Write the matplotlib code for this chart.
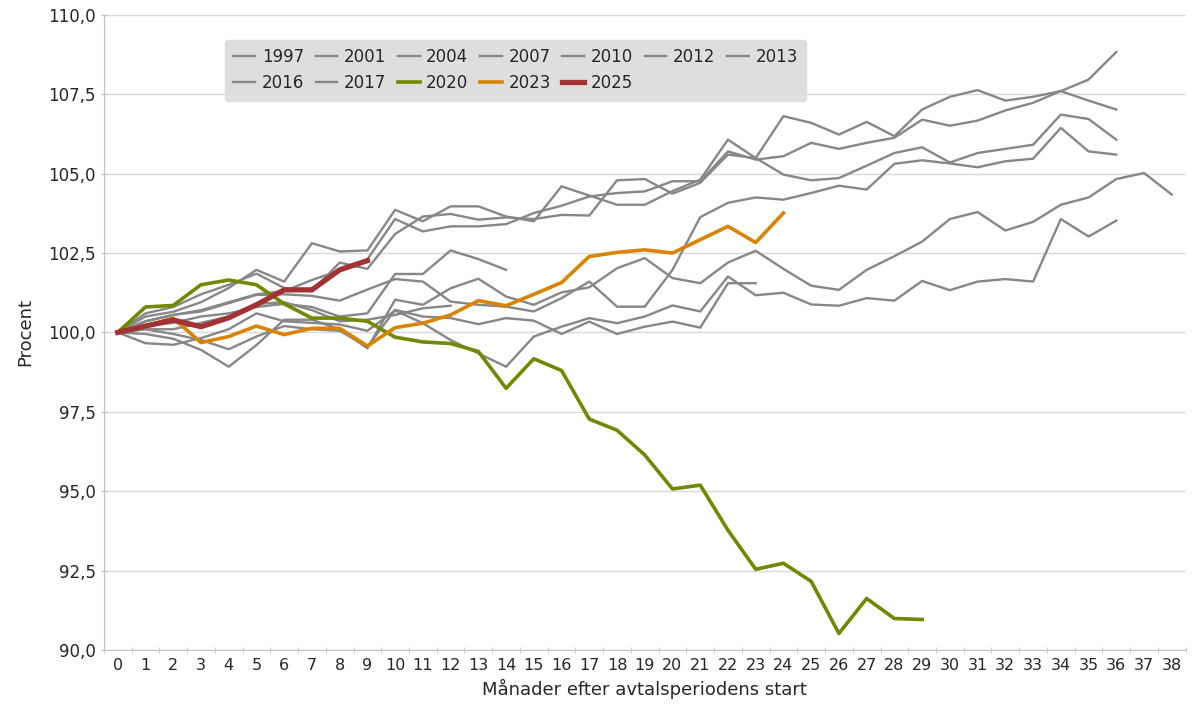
import numpy as np
import matplotlib.pyplot as plt
from matplotlib.ticker import FuncFormatter

# Index (start of agreement period = 100), by month after start
y1997 = [100, 99.95, 99.8, 99.45, 98.92, 99.6, 100.4, 100.4, 100.1, 99.5, 101.03,
         100.87, 101.39, 101.69, 101.13, 100.87, 101.26, 101.42, 102.02, 102.34, 101.71,
         101.55, 102.2, 102.57, 102.0, 101.47, 101.34, 101.97, 102.4, 102.86, 103.57,
         103.79, 103.21, 103.48, 104.02, 104.25, 104.83, 105.02, 104.34]
y2001 = [100, 99.66, 99.61, 99.82, 100.1, 100.6, 100.35, 100.3, 100.25, 100.05, 100.69,
         100.29, 99.76, 99.34, 98.92, 99.87, 100.18, 100.45, 100.29, 100.5, 100.85,
         100.66, 101.76, 101.17, 101.25, 100.88, 100.84, 101.08, 101.0, 101.62, 101.33,
         101.6, 101.68, 101.6, 103.57, 103.02, 103.52]
y2004 = [100, 100.35, 100.55, 100.7, 100.95, 101.2, 101.3, 101.65, 101.95, 102.3, 103.57,
         103.18, 103.34, 103.34, 103.41, 103.76, 103.99, 104.28, 104.39, 104.44, 104.76,
         104.76, 105.7, 105.44, 105.55, 105.97, 105.78, 105.97, 106.13, 106.7, 106.51,
         106.67, 106.99, 107.23, 107.6, 107.96, 108.83]
y2007 = [100, 100.5, 100.65, 100.95, 101.4, 101.97, 101.6, 102.81, 102.55, 102.58, 103.86,
         103.5, 103.97, 103.97, 103.65, 103.5, 104.6, 104.31, 104.02, 104.02, 104.45,
         104.81, 106.07, 105.49, 106.81, 106.6, 106.23, 106.63, 106.18, 107.02, 107.42,
         107.63, 107.3, 107.42, 107.6, 107.3, 107.02]
y2010 = [100, 100.1, 99.95, 99.76, 99.47, 99.87, 100.2, 100.1, 100.05, 99.55, 100.71,
         100.5, 100.45, 100.26, 100.45, 100.37, 99.95, 100.34, 99.95, 100.18, 100.34,
         100.15, 101.55, 101.55]
y2012 = [100, 100.2, 100.3, 100.5, 100.6, 100.8, 100.9, 100.8, 100.5, 100.6, 101.84,
         101.84, 102.58, 102.31, 101.97]
y2013 = [100, 100.6, 100.8, 101.2, 101.5, 101.85, 101.4, 101.3, 102.2, 102.0, 103.1,
         103.65, 103.73, 103.55, 103.62, 103.57, 103.7, 103.68, 104.79, 104.83, 104.37,
         104.71, 105.6, 105.49, 104.97, 104.79, 104.86, 105.25, 105.65, 105.83, 105.35,
         105.65, 105.78, 105.91, 106.86, 106.72, 106.07]
y2016 = [100, 100.1, 100.1, 100.3, 100.5, 100.9, 100.95, 100.7, 100.35, 100.4, 100.55,
         100.76, 100.84]
y2017 = [100, 100.35, 100.55, 100.66, 100.92, 101.18, 101.2, 101.15, 101.0, 101.35, 101.68,
         101.6, 100.97, 100.87, 100.81, 100.66, 101.08, 101.6, 100.81, 100.81, 101.97,
         103.63, 104.08, 104.25, 104.18, 104.39, 104.62, 104.5, 105.31, 105.42, 105.32,
         105.2, 105.39, 105.47, 106.44, 105.7, 105.6]
y2020 = [100, 100.8, 100.85, 101.5, 101.65, 101.5, 100.9, 100.45, 100.45, 100.35, 99.85,
         99.7, 99.65, 99.4, 98.24, 99.17, 98.8, 97.27, 96.92, 96.14, 95.07,
         95.19, 93.77, 92.54, 92.73, 92.16, 90.52, 91.62, 90.99, 90.96]
y2023 = [100, 100.2, 100.45, 99.68, 99.87, 100.2, 99.93, 100.13, 100.13, 99.57, 100.15,
         100.29, 100.55, 101.0, 100.84, 101.2, 101.57, 102.39, 102.52, 102.6, 102.5,
         102.92, 103.34, 102.83, 103.76]
y2025 = [100, 100.2, 100.39, 100.18, 100.46, 100.87, 101.34, 101.34, 101.97, 102.26]

gray_series = {"1997": y1997, "2001": y2001, "2004": y2004, "2007": y2007,
               "2010": y2010, "2012": y2012, "2013": y2013, "2016": y2016,
               "2017": y2017}
highlight = [("2020", y2020, "#6f8a00", 2.6),
             ("2023", y2023, "#d98400", 2.6),
             ("2025", y2025, "#a33333", 3.8)]
months = list(range(39))

fig = plt.figure(figsize=(11.94, 7.08), dpi=100)
ax = fig.add_axes([0.087, 0.082, 0.906, 0.897])

lines = {}
for name, vals in gray_series.items():
    lines[name], = ax.plot(range(len(vals)), vals, color="#878787", lw=1.7,
                           solid_joinstyle="round", label=name)
for name, vals, col, lw in highlight:
    lines[name], = ax.plot(range(len(vals)), vals, color=col, lw=lw,
                           solid_joinstyle="round", label=name)

ax.set_xlim(-0.5, 38.5)
ax.set_ylim(90, 110)
ax.set_yticks(np.arange(90, 110.1, 2.5))
ax.yaxis.set_major_formatter(FuncFormatter(lambda v, p: f"{v:.1f}".replace(".", ",")))
ax.set_xticks(months)
ax.set_xticks(np.arange(-0.5, 38.6, 1), minor=True)
ax.tick_params(axis="x", which="major", length=0, pad=6, labelsize=11.5,
               labelcolor="#262626")
ax.tick_params(axis="x", which="minor", length=5, color="#bfbfbf", direction="inout")
ax.tick_params(axis="y", length=5, color="#bfbfbf", direction="inout",
               labelsize=12, labelcolor="#262626")

ax.grid(axis="y", color="#d9d9d9", lw=1)
ax.set_axisbelow(True)
for s in ("top", "right"):
    ax.spines[s].set_visible(False)
for s in ("left", "bottom"):
    ax.spines[s].set_color("#bfbfbf")

ax.set_ylabel("Procent", fontsize=13, color="#262626", labelpad=10)
ax.set_xlabel("Månader efter avtalsperiodens start", fontsize=13, color="#262626")

# row-major legend order for 7 columns
order = ["1997", "2016", "2001", "2017", "2004", "2020", "2007", "2023",
         "2010", "2025", "2012", "2013"]
leg = ax.legend([lines[k] for k in order], order, ncol=7, loc="upper left",
                bbox_to_anchor=(0.112, 0.961), borderaxespad=0, fontsize=12,
                handlelength=1.3, handletextpad=0.4, columnspacing=0.7,
                frameon=True, fancybox=True, facecolor="#dedede",
                edgecolor="#dedede", framealpha=1, borderpad=0.5)
for t in leg.get_texts():
    t.set_color("#262626")

fig.savefig("out.png")
